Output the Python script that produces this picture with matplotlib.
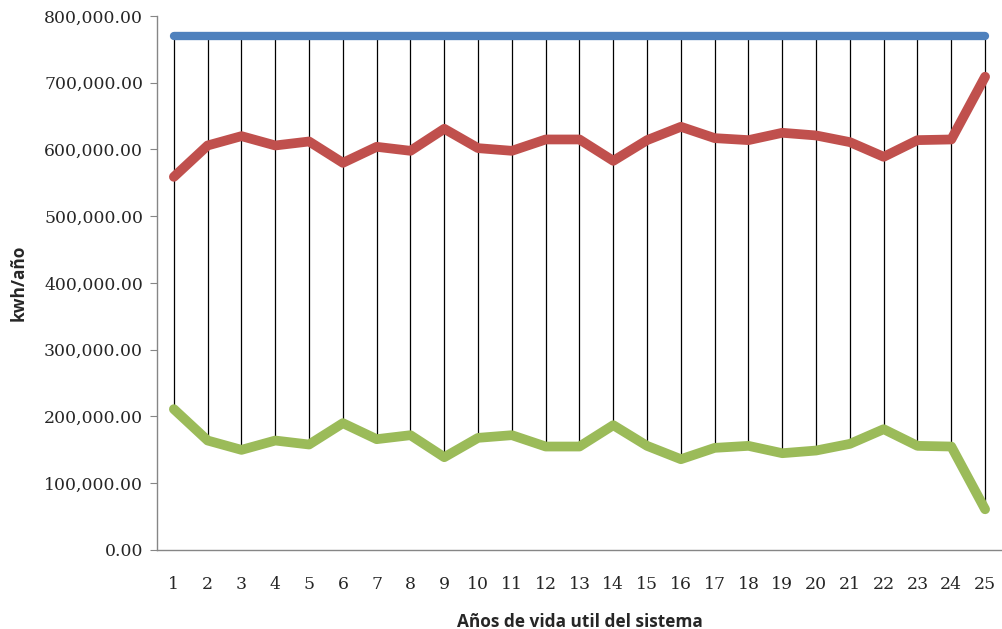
import matplotlib
matplotlib.use("Agg")
import matplotlib.pyplot as plt
from matplotlib.ticker import FuncFormatter

# Years of the system's useful life
years = list(range(1, 26))

# Annual energy figures (kWh/year)
total_energy = [770000] * 25
red_series = [559000, 606000, 620000, 606000, 612000, 580000, 604000, 598000,
              631000, 602000, 598000, 615000, 615000, 583000, 614000, 634000,
              617000, 614000, 625000, 621000, 611000, 589000, 614000, 615000,
              709000]
green_series = [211000, 164000, 150000, 164000, 158000, 190000, 166000, 172000,
                139000, 168000, 172000, 155000, 155000, 187000, 156000, 136000,
                153000, 156000, 145000, 149000, 159000, 181000, 156000, 155000,
                61000]

y_ticks = [0, 100000, 200000, 300000, 400000, 500000, 600000, 700000, 800000]

fig = plt.figure(figsize=(10.03, 6.29), dpi=100)
ax = fig.add_axes([0.1565, 0.1256, 0.8425, 0.849])

# High-low connectors from the top series down to the lowest one
ax.vlines(years, green_series, total_energy, colors="black", linewidth=0.9, zorder=1)

ax.plot(years, total_energy, color="#4F81BD", linewidth=6.0,
        solid_capstyle="round", solid_joinstyle="round", zorder=3)
ax.plot(years, red_series, color="#C0504D", linewidth=7.0,
        solid_capstyle="round", solid_joinstyle="round", zorder=3)
ax.plot(years, green_series, color="#9BBB59", linewidth=7.0,
        solid_capstyle="round", solid_joinstyle="round", zorder=3)

ax.set_xlim(0.5, 25.5)
ax.set_ylim(0, 800000)
ax.set_yticks(y_ticks)
ax.yaxis.set_major_formatter(FuncFormatter(lambda v, p: f"{v:,.2f}"))
ax.set_xticks(years)
ax.set_xticklabels([str(y) for y in years])

for side in ("top", "right"):
    ax.spines[side].set_visible(False)
for side in ("left", "bottom"):
    ax.spines[side].set_color("#868686")
    ax.spines[side].set_linewidth(1.0)

ax.tick_params(axis="y", direction="out", length=5, color="#868686", pad=5,
               labelsize=12.4, labelcolor="#262626")
ax.tick_params(axis="x", length=0, pad=19, labelsize=12.4, labelcolor="#262626")
for lbl in ax.get_yticklabels() + ax.get_xticklabels():
    lbl.set_fontfamily("DejaVu Serif")

ax.set_xlabel("Años de vida util del sistema", fontsize=12.4, fontweight="bold",
              family="Open Sans", color="#262626", labelpad=14)
ax.set_ylabel("kwh/año", fontsize=12.4, fontweight="bold", family="Open Sans",
              color="#262626", labelpad=12)

fig.savefig("out.png", dpi=100)
